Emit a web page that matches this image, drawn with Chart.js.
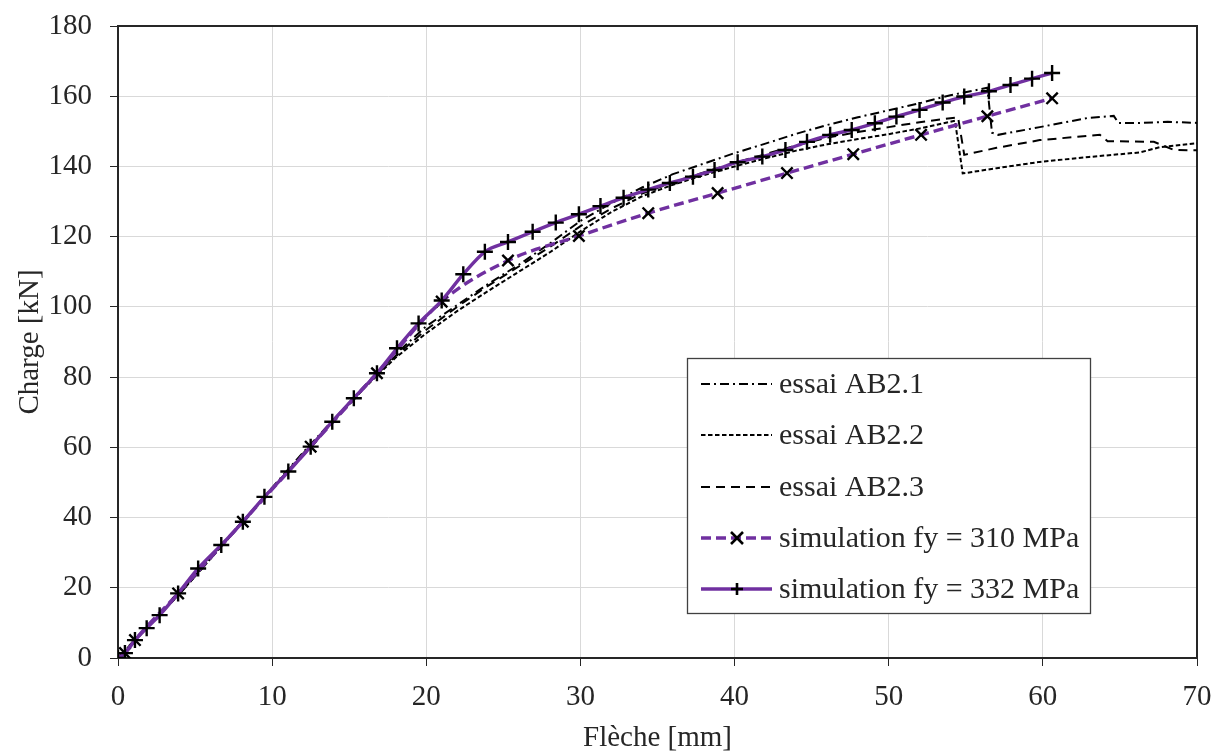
<!DOCTYPE html>
<html><head><meta charset="utf-8">
<script src="https://cdn.jsdelivr.net/npm/chart.js@4/dist/chart.umd.min.js"></script>
<style>html,body{margin:0;padding:0;background:#fff;} #wrap{width:1216px;height:753px;position:relative}</style>
</head><body><div id="wrap"><canvas id="c" width="1216" height="753"></canvas></div>
<script>
// ---- data ----
const seriesNames = ['essai AB2.1', 'essai AB2.2', 'essai AB2.3', 'simulation fy = 310 MPa', 'simulation fy = 332 MPa'];
const xAxisTitle = 'Flèche [mm]';
const yAxisTitle = 'Charge [kN]';

const ab21X = [0, 4, 8, 12, 16, 18, 20, 22, 24, 26, 28, 30, 32, 34, 36, 38, 40, 42, 44, 46, 48, 50, 52, 54, 56.4, 56.7, 57.1, 59.8, 62.9, 64.6, 64.9, 66.3, 68.1, 70];
const ab21Y = [0, 18.5, 38.5, 58.5, 77.5, 86.5, 94.5, 100.5, 106.5, 112, 118, 124.5, 129.5, 134, 137.8, 140.8, 143.8, 146.5, 149.3, 151.8, 154, 156, 158, 160.3, 162.4, 149.6, 149, 151.2, 153.8, 154.4, 152.4, 152.4, 152.7, 152.4];

const ab22X = [0, 4, 8, 12, 16, 18, 20, 22, 24, 26, 28, 30, 32, 34, 36, 38, 40, 42, 44, 46, 48, 50, 52, 54.3, 54.8, 57, 59.8, 63, 66.3, 67.6, 70];
const ab22Y = [0, 18.3, 38.2, 58, 77, 85.5, 92.5, 98.8, 104.5, 110, 115.5, 121.5, 127, 131.5, 134.8, 137.5, 140, 142.3, 144.5, 146.3, 147.8, 149.2, 150.8, 153, 138, 139.5, 141.3, 142.7, 144, 145.5, 146.6];

const ab23X = [0, 4, 8, 12, 16, 18, 20, 22, 24, 26, 28, 30, 32, 34, 36, 38, 40, 42, 44, 46, 48, 50, 52, 54.5, 54.9, 57, 59.8, 63.7, 64.2, 67.2, 68.5, 70];
const ab23Y = [0, 18.3, 38.3, 58.2, 77.2, 86, 93.5, 100, 106, 111.5, 117, 123, 128, 132.3, 135.5, 138.3, 141, 143.5, 146, 148.2, 149.8, 151.2, 152.6, 154, 143.3, 145.3, 147.5, 149, 147.2, 147, 144.7, 144.6];

const sim310X = [0, 0.45, 1.1, 3.9, 8.1, 12.5, 16.8, 21, 25.3, 29.9, 34.4, 38.9, 43.4, 47.7, 52.1, 56.4, 60.6];
const sim310Y = [0, 1.4, 5.1, 18.4, 38.8, 60.2, 81.1, 101.5, 113.2, 120.2, 126.7, 132.4, 138.1, 143.5, 149, 154.3, 159.4];

const sim332X = [0, 0.45, 1.1, 1.86, 2.7, 3.9, 5.2, 6.7, 8.1, 9.5, 11.05, 12.5, 13.9, 15.3, 16.8, 18.1, 19.5, 21, 22.4, 23.8, 25.3, 26.9, 28.4, 29.9, 31.3, 32.8, 34.4, 35.8, 37.3, 38.7, 40.2, 41.8, 43.3, 44.7, 46.2, 47.6, 49.1, 50.5, 52, 53.5, 54.9, 56.5, 57.9, 59.3, 60.6];
const sim332Y = [0, 1.4, 5.1, 8.5, 12.2, 18.4, 25.5, 32.2, 38.8, 45.9, 53.1, 60.2, 67.3, 74, 81.1, 88.2, 95.3, 101.8, 109.3, 115.7, 118.5, 121.4, 124, 126.4, 128.7, 131.1, 133.4, 135.3, 137.1, 139, 141.2, 142.8, 144.7, 147, 149, 150.4, 152.3, 154.2, 156.1, 158.2, 159.9, 161.4, 163.2, 165, 166.6];

// ---- styling ----
const PURPLE = '#7030A0';
const INK = '#262626';
const FONT = "'Liberation Serif', 'Times New Roman', serif";
Chart.defaults.font.family = FONT;
Chart.defaults.font.size = 29;
Chart.defaults.color = INK;

function pts(xs, ys) { return xs.map((x, i) => ({ x: x, y: ys[i] })); }

const testStyle = (dash) => ({ borderColor: '#000', borderWidth: 2, borderDash: dash, pointRadius: 0, pointHoverRadius: 0, tension: 0, fill: false });

const datasets = [
  Object.assign({ label: seriesNames[0], data: pts(ab21X, ab21Y), order: 5 }, testStyle([9, 4, 2, 4])),
  Object.assign({ label: seriesNames[1], data: pts(ab22X, ab22Y), order: 4 }, testStyle([4.5, 2.5])),
  Object.assign({ label: seriesNames[2], data: pts(ab23X, ab23Y), order: 3 }, testStyle([9, 6])),
  { label: seriesNames[3], data: pts(sim310X, sim310Y), order: 2, borderColor: PURPLE, borderWidth: 3.4, borderDash: [10, 5],
    pointStyle: 'crossRot', pointRadius: 8, pointBorderColor: '#000', pointBackgroundColor: '#000', pointBorderWidth: 2.4,
    cubicInterpolationMode: 'monotone', fill: false },
  { label: seriesNames[4], data: pts(sim332X, sim332Y), order: 1, borderColor: PURPLE, borderWidth: 3.4,
    pointStyle: 'cross', pointRadius: 8, pointBorderColor: '#000', pointBackgroundColor: '#000', pointBorderWidth: 2.4,
    cubicInterpolationMode: 'monotone', fill: false }
];

const frame = {
  id: 'frame',
  beforeDatasetsDraw(chart) {
    const a = chart.chartArea, ctx = chart.ctx;
    ctx.save();
    ctx.strokeStyle = INK;
    ctx.lineWidth = 2;
    ctx.setLineDash([]);
    ctx.beginPath();
    ctx.moveTo(a.left, a.top);
    ctx.lineTo(a.right, a.top);
    ctx.lineTo(a.right, a.bottom);
    ctx.stroke();
    ctx.restore();
  }
};

const legendBox = {
  id: 'legendBox',
  afterDraw(chart) {
    const ctx = chart.ctx;
    const L = 687, T = 358, R = 1090, B = 613;
    ctx.save();
    ctx.fillStyle = '#fff';
    ctx.fillRect(L, T, R - L, B - T);
    ctx.strokeStyle = '#404040';
    ctx.lineWidth = 1.3;
    ctx.setLineDash([]);
    ctx.strokeRect(L + 0.5, T + 0.5, R - L, B - T);
    const rowsY = [384, 435, 487, 538, 589];
    chart.data.datasets.forEach((ds, i) => {
      const y = rowsY[i];
      ctx.save();
      ctx.strokeStyle = ds.borderColor;
      ctx.lineWidth = ds.borderWidth;
      ctx.setLineDash(ds.borderDash || []);
      ctx.beginPath();
      ctx.moveTo(701, y);
      ctx.lineTo(772, y);
      ctx.stroke();
      ctx.restore();
      if (ds.pointStyle) {
        ctx.save();
        ctx.strokeStyle = '#000';
        ctx.lineWidth = 2.6;
        ctx.setLineDash([]);
        ctx.beginPath();
        const cx = 737, r = 6;
        if (ds.pointStyle === 'cross') {
          ctx.moveTo(cx - r, y); ctx.lineTo(cx + r, y);
          ctx.moveTo(cx, y - r); ctx.lineTo(cx, y + r);
        } else {
          ctx.moveTo(cx - r, y - r); ctx.lineTo(cx + r, y + r);
          ctx.moveTo(cx + r, y - r); ctx.lineTo(cx - r, y + r);
        }
        ctx.stroke();
        ctx.restore();
      }
      ctx.fillStyle = INK;
      ctx.font = '30px ' + FONT;
      ctx.textBaseline = 'middle';
      ctx.textAlign = 'left';
      ctx.fillText(ds.label, 779, y + 1);
    });
    ctx.restore();
  }
};

new Chart(document.getElementById('c'), {
  type: 'line',
  data: { datasets: datasets },
  options: {
    responsive: false,
    animation: false,
    devicePixelRatio: 1,
    layout: { autoPadding: false, padding: { top: 26, right: 19, left: 0, bottom: 0 } },
    plugins: { legend: { display: false }, tooltip: { enabled: false } },
    scales: {
      x: {
        type: 'linear', min: 0, max: 70,
        ticks: { stepSize: 10, padding: 14, color: INK },
        grid: { color: '#d9d9d9', lineWidth: 1, tickLength: 8, tickColor: INK, drawTicks: true },
        border: { color: INK, width: 2 },
        title: { display: true, text: xAxisTitle, color: INK, padding: { top: 0, bottom: 0 }, font: { size: 29, lineHeight: 1.0 } },
        afterFit: s => { s.height = 95; s.paddingLeft = 0; s.paddingRight = 0; }
      },
      y: {
        type: 'linear', min: 0, max: 180,
        ticks: { stepSize: 20, padding: 18, color: INK },
        grid: { color: '#d9d9d9', lineWidth: 1, tickLength: 8, tickColor: INK, drawTicks: true },
        border: { color: INK, width: 2 },
        title: { display: true, text: yAxisTitle, color: INK, padding: { top: 16, bottom: 0 }, font: { size: 29, lineHeight: 1.0 } },
        afterFit: s => { s.width = 118; s.paddingTop = 0; s.paddingBottom = 0; }
      }
    }
  },
  plugins: [frame, legendBox]
});
</script>
</body></html>
